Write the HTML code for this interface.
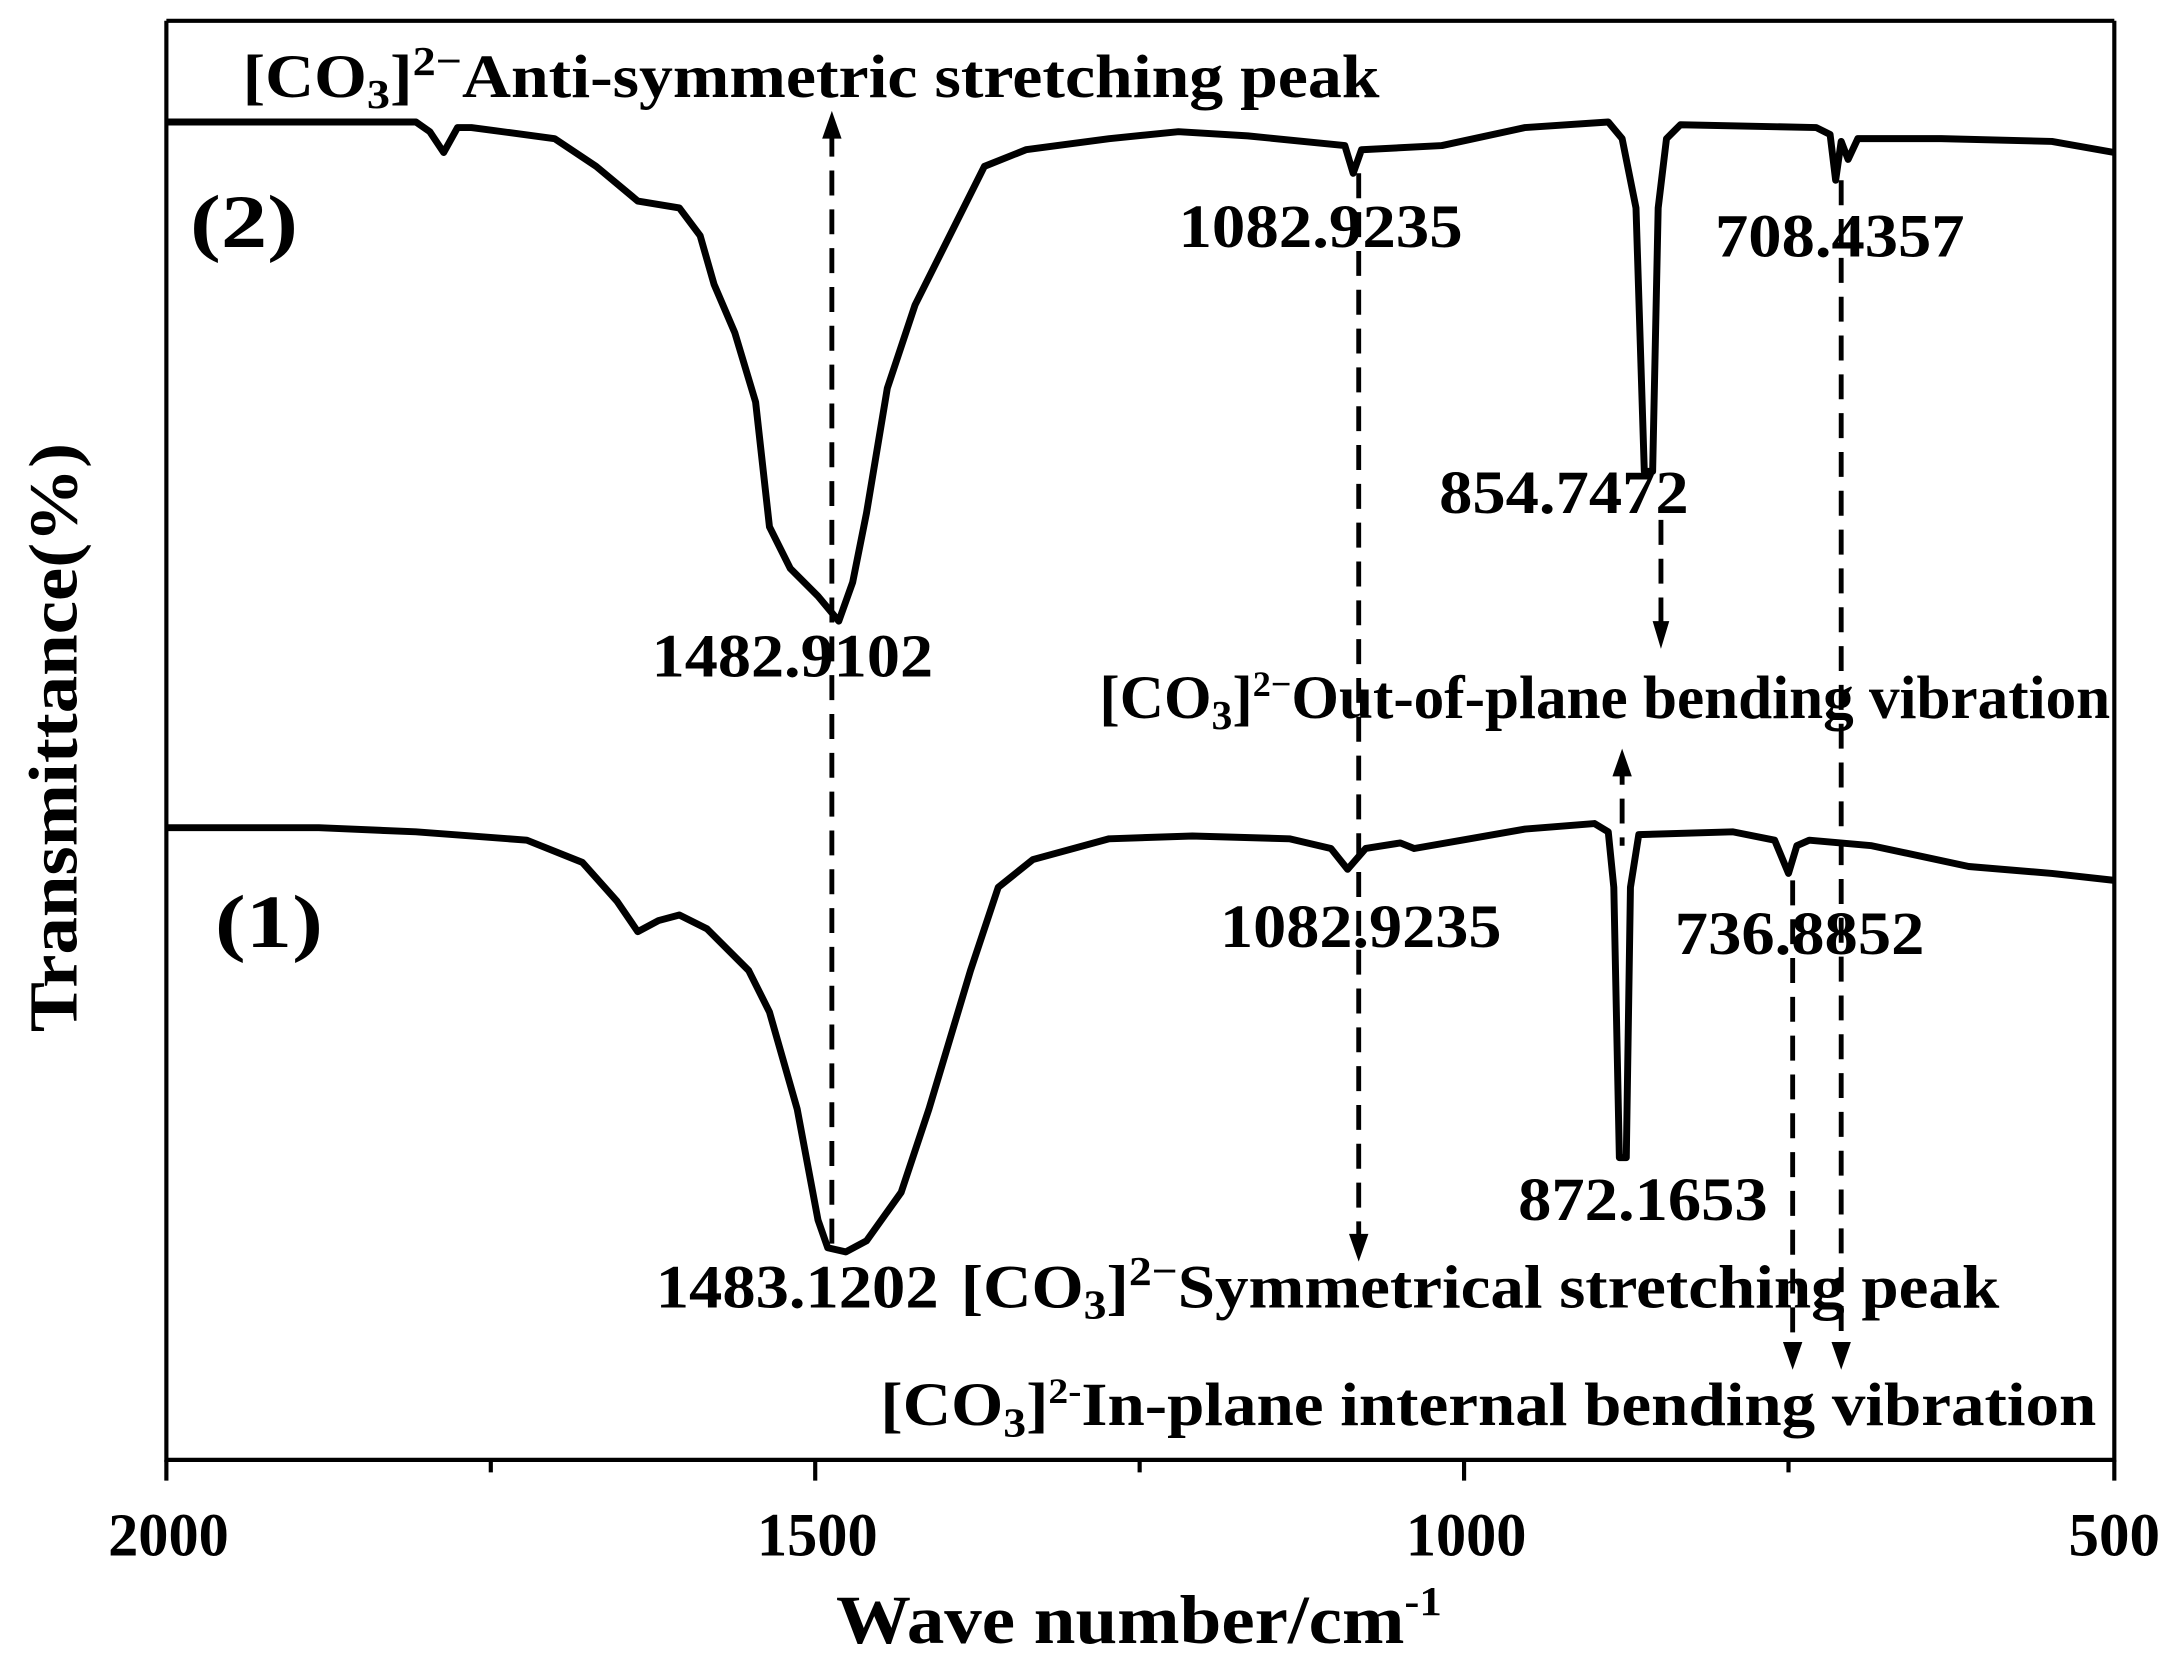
<!DOCTYPE html>
<html><head><meta charset="utf-8"><style>html,body{margin:0;padding:0;background:#fff}svg{display:block}</style></head>
<body>
<svg width="2167" height="1663" viewBox="0 0 1563 1199.5" preserveAspectRatio="none" xmlns="http://www.w3.org/2000/svg" font-family="Liberation Serif, serif" font-weight="bold">
<rect width="1563" height="1200" fill="#fff"/>
<g fill="none" stroke="#000" stroke-width="3">
<path d="M120 15 H1525 M120 15 V1053 H1525 V15"/>
<path d="M120 1053 V1068 M588 1053 V1068 M1056 1053 V1068 M1525 1053 V1068 M354 1053 V1062 M822 1053 V1062 M1290 1053 V1062"/>
</g>
<g fill="none" stroke="#000" stroke-width="5" stroke-linejoin="round">
<path d="M120 88 L300 88 L310 95 L320 110 L330 92 L340 92 L400 100 L430 120 L460 145 L490 150 L505 170 L515 205 L530 240 L545 290 L555 380 L570 410 L590 430 L605 448 L615 420 L625 370 L640 280 L660 220 L690 160 L710 120 L740 108 L800 100 L850 95 L900 98 L970 105 L976 125 L982 108 L1040 105 L1100 92 L1160 88 L1170 100 L1180 150 L1186 340 L1192 340 L1196 150 L1202 100 L1212 90 L1310 92 L1320 97 L1324 130 L1328 102 L1333 115 L1340 100 L1400 100 L1480 102 L1525 110"/>
<path d="M120 597 L230 597 L300 600 L380 606 L420 622 L445 650 L460 672 L475 664 L490 660 L510 670 L540 700 L555 730 L575 800 L590 880 L597 900 L610 903 L625 895 L650 860 L670 800 L700 700 L720 640 L745 620 L800 605 L860 603 L930 605 L960 612 L972 627 L985 612 L1010 608 L1020 612 L1060 605 L1100 598 L1150 594 L1160 600 L1164 640 L1168 835 L1173 835 L1176 640 L1182 602 L1250 600 L1280 606 L1290 630 L1296 610 L1305 606 L1350 610 L1420 625 L1480 630 L1525 635"/>
</g>
<g fill="none" stroke="#000" stroke-width="3.5" stroke-dasharray="18 10">
<path d="M600 95 V900"/>
<path d="M980 125 V895"/>
<path d="M1198 375 V460"/>
<path d="M1170 548 V610"/>
<path d="M1293 635 V978"/>
<path d="M1328 130 V978"/>
</g>
<g fill="#000">
<path d="M600 80 L593 100 L607 100Z"/>
<path d="M980 910 L973 890 L987 890Z"/>
<path d="M1198 468 L1192 448 L1204 448Z"/>
<path d="M1170 540 L1163 560 L1177 560Z"/>
<path d="M1293 988 L1286 968 L1300 968Z"/>
<path d="M1328 988 L1321 968 L1335 968Z"/>
</g>
<g font-size="44" fill="#000">
<text x="175" y="70" textLength="820" lengthAdjust="spacingAndGlyphs">[CO<tspan font-size="30" dy="8">3</tspan><tspan dy="-8">]</tspan><tspan font-size="30" dy="-16">2−</tspan><tspan dy="16">Anti-symmetric stretching peak</tspan></text>
<text x="137" y="178" font-size="54" textLength="78" lengthAdjust="spacingAndGlyphs">(2)</text>
<text x="155" y="683" font-size="54" textLength="78" lengthAdjust="spacingAndGlyphs">(1)</text>
<text x="850" y="178" textLength="205" lengthAdjust="spacingAndGlyphs">1082.9235</text>
<text x="1237" y="185" textLength="180" lengthAdjust="spacingAndGlyphs">708.4357</text>
<text x="1038" y="370" textLength="180" lengthAdjust="spacingAndGlyphs">854.7472</text>
<text x="470" y="488" textLength="203" lengthAdjust="spacingAndGlyphs">1482.9102</text>
<text x="793" y="518" textLength="729" lengthAdjust="spacingAndGlyphs">[CO<tspan font-size="30" dy="8">3</tspan><tspan dy="-8">]</tspan><tspan font-size="26" dy="-16">2−</tspan><tspan dy="16">Out-of-plane bending vibration</tspan></text>
<text x="880" y="683" textLength="203" lengthAdjust="spacingAndGlyphs">1082.9235</text>
<text x="1208" y="688" textLength="180" lengthAdjust="spacingAndGlyphs">736.8852</text>
<text x="1095" y="880" textLength="180" lengthAdjust="spacingAndGlyphs">872.1653</text>
<text x="473" y="943" textLength="204" lengthAdjust="spacingAndGlyphs">1483.1202</text>
<text x="693" y="943" textLength="749" lengthAdjust="spacingAndGlyphs">[CO<tspan font-size="30" dy="8">3</tspan><tspan dy="-8">]</tspan><tspan font-size="30" dy="-16">2−</tspan><tspan dy="16">Symmetrical stretching peak</tspan></text>
<text x="635" y="1028" textLength="877" lengthAdjust="spacingAndGlyphs">[CO<tspan font-size="30" dy="8">3</tspan><tspan dy="-8">]</tspan><tspan font-size="26" dy="-16">2-</tspan><tspan dy="16">In-plane internal bending vibration</tspan></text>
</g>
<g font-size="44" fill="#000">
<text x="78" y="1122" textLength="87" lengthAdjust="spacingAndGlyphs">2000</text>
<text x="546" y="1122" textLength="87" lengthAdjust="spacingAndGlyphs">1500</text>
<text x="1014" y="1122" textLength="87" lengthAdjust="spacingAndGlyphs">1000</text>
<text x="1492" y="1122" textLength="66" lengthAdjust="spacingAndGlyphs">500</text>
</g>
<text x="603" y="1185" font-size="50" textLength="437" lengthAdjust="spacingAndGlyphs">Wave number/cm<tspan font-size="30" dy="-20">-1</tspan></text>
<text transform="translate(55 532) rotate(-90)" text-anchor="middle" font-size="50" textLength="425" lengthAdjust="spacingAndGlyphs">Transmittance(%)</text>
</svg>
</body></html>
